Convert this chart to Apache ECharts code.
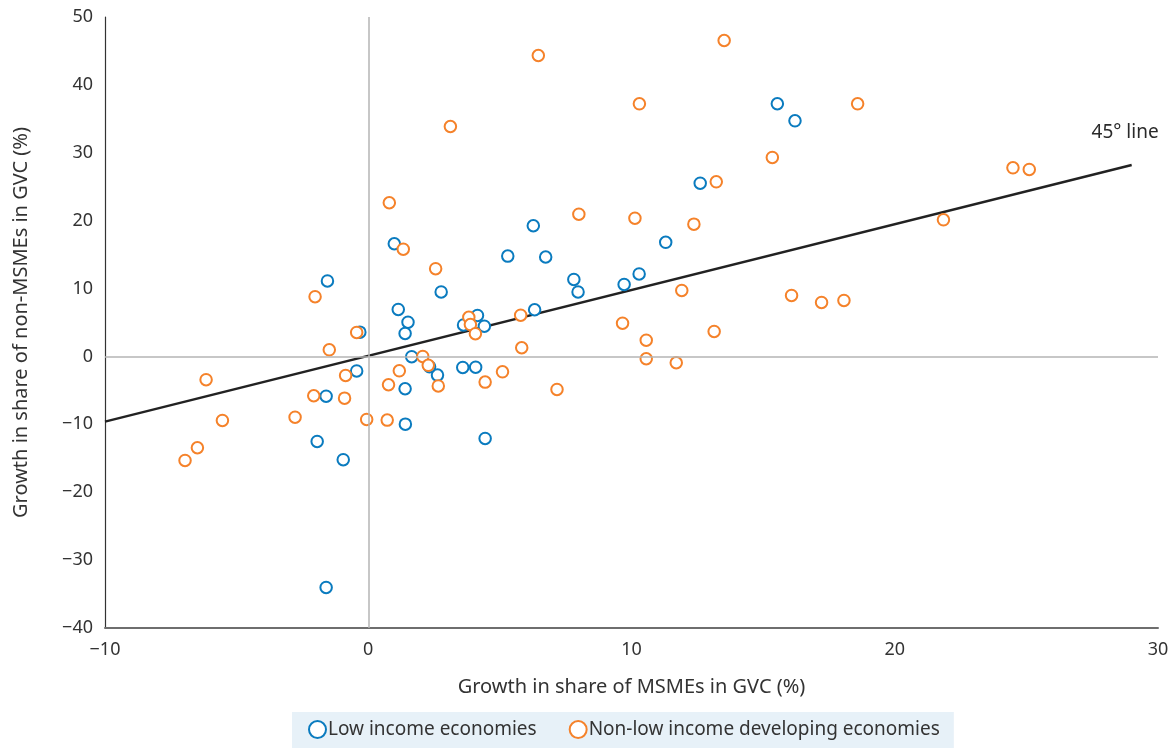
<!DOCTYPE html>
<html><head><meta charset="utf-8">
<script src="https://cdn.jsdelivr.net/npm/echarts@6/dist/echarts.min.js"></script>
<style>html,body{margin:0;padding:0;background:#fff}#c{width:1174px;height:748px}</style>
</head><body><div id="c"></div>
<script>
const lowIncome = [
  [15.54,37.22],[16.21,34.71],[12.61,25.52],[11.30,16.81],[10.29,12.15],[9.72,10.6],
  [7.81,11.34],[7.97,9.5],[6.27,19.25],[5.30,14.78],[6.74,14.65],[2.77,9.5],
  [6.32,6.88],[4.15,6.04],[3.62,4.64],[4.41,4.46],[3.59,-1.62],[4.08,-1.58],
  [2.63,-2.75],[2.33,-1.52],[4.44,-12.08],[0.99,16.6],[1.14,6.92],[1.51,5.05],
  [1.40,3.39],[1.65,-0.04],[1.40,-4.76],[1.41,-9.97],[-1.55,11.12],[-0.32,3.58],
  [-0.44,-2.14],[-1.60,-5.86],[-1.94,-12.52],[-0.95,-15.21],[-1.60,-34.02]
];
const nonLowIncome = [
  [13.52,46.54],[6.46,44.33],[10.30,37.21],[18.59,37.21],[3.12,33.87],[15.35,29.31],
  [13.22,25.72],[24.49,27.79],[25.11,27.54],[0.80,22.64],[8.0,20.96],[10.13,20.37],
  [12.37,19.49],[21.85,20.13],[1.33,15.8],[2.56,12.93],[11.91,9.72],[16.08,8.98],
  [17.22,7.95],[18.07,8.25],[-2.02,8.8],[5.79,6.08],[3.82,5.76],[3.88,4.7],
  [4.07,3.35],[9.66,4.9],[13.14,3.68],[10.56,2.4],[-0.44,3.53],[5.83,1.28],
  [-1.48,0.98],[2.07,0.0],[10.56,-0.34],[11.70,-0.93],[2.28,-1.3],[1.18,-2.11],
  [5.10,-2.26],[-0.86,-2.8],[-6.16,-3.43],[4.44,-3.78],[0.77,-4.17],[2.66,-4.35],
  [7.17,-4.86],[-2.07,-5.79],[-0.90,-6.14],[-2.78,-8.95],[-0.06,-9.28],[0.72,-9.38],
  [-5.54,-9.43],[-6.49,-13.45],[-6.96,-15.32]
];
const line45 = [[-10,-9.6],[29,28.2]];
const line45Label = '45° line';
const line45LabelAt = [28.75, 33.0];
const xRange = [-10, 30, 10];
const yRange = [-40, 50, 10];
const seriesNames = ['Low income economies', 'Non-low income developing economies'];
const xTitle = 'Growth in share of MSMEs in GVC (%)';
const yTitle = 'Growth in share of non-MSMEs in GVC (%)';

const FONT = 'Noto Sans';
const BLUE = '#0a7bbf';
const ORANGE = '#f5822a';
const fmt = v => String(v).replace('-', '\u2212');

const chart = echarts.init(document.getElementById('c'));
chart.setOption({
  animation: false,
  backgroundColor: '#fff',
  textStyle: { fontFamily: FONT },
  grid: { left: 105, right: 16, top: 17, bottom: 120, containLabel: false },
  xAxis: {
    type: 'value', min: xRange[0], max: xRange[1], interval: xRange[2],
    name: xTitle, nameLocation: 'middle', nameGap: 49,
    nameTextStyle: { fontSize: 20, color: '#333', fontFamily: FONT },
    axisLine: { onZero: false, lineStyle: { color: '#6e6e6e', width: 2 } },
    axisTick: { show: false },
    splitLine: { show: false },
    axisLabel: { fontSize: 18, color: '#333', margin: 13, formatter: fmt, fontFamily: FONT }
  },
  yAxis: {
    type: 'value', min: yRange[0], max: yRange[1], interval: yRange[2],
    name: yTitle, nameLocation: 'middle', nameGap: 74,
    nameTextStyle: { fontSize: 20, color: '#333', fontFamily: FONT },
    axisLine: { show: true, onZero: false, lineStyle: { color: '#333', width: 1.2 } },
    axisTick: { show: false },
    splitLine: { show: false },
    axisLabel: { fontSize: 18, color: '#333', margin: 12, formatter: fmt, fontFamily: FONT }
  },
  legend: {
    data: seriesNames.map(n => ({ name: n, icon: 'emptyCircle' })),
    left: 292, bottom: 0,
    backgroundColor: '#e7f1f8',
    padding: [8, 14, 9, 16],
    itemGap: 32, itemWidth: 17, itemHeight: 17,
    itemStyle: { borderWidth: 2.5 },
    textStyle: { fontSize: 19, color: '#333', fontFamily: FONT, padding: [0, 0, 0, -3] }
  },
  series: [
    {
      type: 'scatter', name: 'zero', data: [], z: 1, silent: true,
      markLine: {
        silent: true, symbol: 'none', label: { show: false },
        lineStyle: { color: '#b5b5b5', width: 1.5, type: 'solid' },
        data: [{ xAxis: 0 }, { yAxis: 0 }]
      }
    },
    {
      type: 'line', name: '45', data: line45,
      showSymbol: false, symbol: 'none', z: 2, silent: true,
      lineStyle: { color: '#222', width: 2.5 }
    },
    {
      type: 'scatter', name: 'label45', data: [line45LabelAt], symbolSize: 0, z: 4, silent: true,
      itemStyle: { opacity: 1 },
      label: { show: true, formatter: line45Label, position: 'inside', fontSize: 19, color: '#2a2a2a', fontFamily: FONT }
    },
    {
      type: 'scatter', name: seriesNames[0], data: lowIncome, symbol: 'emptyCircle', symbolSize: 11.5, z: 3,
      itemStyle: { color: BLUE, borderColor: BLUE, borderWidth: 2.5, opacity: 1 }
    },
    {
      type: 'scatter', name: seriesNames[1], data: nonLowIncome, symbol: 'emptyCircle', symbolSize: 11.5, z: 3,
      itemStyle: { color: ORANGE, borderColor: ORANGE, borderWidth: 2.5, opacity: 1 }
    }
  ]
});
</script></body></html>
